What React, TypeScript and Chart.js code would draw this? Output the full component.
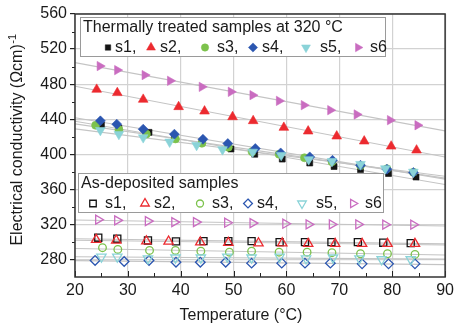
import React, { useEffect, useRef } from 'react';
import { Chart, registerables } from 'chart.js';

Chart.register(...registerables);

const FONT = "'Liberation Sans', Arial, Helvetica, sans-serif";

// ---- axes ----
const xTicks = [20, 30, 40, 50, 60, 70, 80, 90];
const yTicks = [280, 320, 360, 400, 440, 480, 520, 560];
const xMinorTicks = [25, 35, 45, 55, 65, 75, 85];
const yMinorTicks = [300, 340, 380, 420, 460, 500, 540];

// ---- legend texts ----
const sampleNames = ['s1', 's2', 's3', 's4', 's5', 's6'];
const thermalTitle = 'Thermally treated samples at 320 °C';
const depositedTitle = 'As-deposited samples';
const xTitle = 'Temperature (°C)';
const yTitle = 'Electrical conductivity (Ωcm)';
const yTitleSup = '-1';

// ---- thermally treated samples at 320 °C ----
const tS1T = [25.0, 28.3, 34.0, 38.8, 44.0, 49.5, 54.0, 59.2, 64.4, 69.0, 74.0, 79.3, 84.5];
const tS1 = [433.5, 429.5, 425.0, 419.5, 413.5, 406.0, 400.0, 394.5, 390.0, 386.0, 382.5, 378.0, 374.0];
const tS2T = [24.1, 28.0, 32.9, 39.6, 44.5, 49.8, 53.7, 59.5, 64.1, 69.5, 74.7, 79.8, 84.6];
const tS2 = [473.9, 470.1, 462.5, 454.1, 449.1, 442.6, 438.1, 430.5, 426.3, 420.6, 414.9, 409.1, 404.6];
const tS3T = [23.9, 28.3, 33.5, 39.0, 44.0, 49.0, 53.5, 58.6, 63.4, 68.6, 74.0, 79.0, 84.0];
const tS3 = [433.0, 428.2, 423.0, 417.5, 412.5, 408.0, 403.0, 400.0, 396.0, 391.5, 387.0, 383.5, 379.5];
const tS4T = [24.8, 27.9, 32.9, 38.8, 44.2, 48.9, 54.1, 58.9, 64.4, 68.7, 74.0, 79.0, 84.0];
const tS4 = [438.1, 434.3, 428.6, 422.9, 417.1, 412.2, 406.5, 401.5, 397.0, 393.1, 387.4, 382.9, 379.1];
const tS5T = [24.8, 28.3, 32.9, 37.9, 43.0, 47.9, 53.6, 59.0, 64.2, 68.6, 74.0, 78.7, 84.0];
const tS5 = [427.4, 422.9, 419.1, 414.1, 410.3, 405.4, 402.6, 398.9, 394.0, 392.0, 388.6, 383.7, 379.8];
const tS6T = [24.7, 28.0, 33.2, 38.0, 44.0, 49.5, 53.6, 58.6, 63.3, 68.3, 73.3, 79.6, 84.8];
const tS6 = [500.6, 496.0, 490.3, 483.8, 476.9, 471.2, 467.4, 460.9, 456.0, 450.3, 445.4, 438.9, 433.1];

// ---- as-deposited samples ----
const aS1T = [24.4, 28.0, 33.8, 39.1, 44.3, 49.0, 53.4, 58.7, 63.5, 68.5, 73.5, 78.3, 83.5];
const aS1 = [304.8, 303.7, 301.7, 300.6, 300.9, 300.9, 300.9, 299.8, 299.8, 299.8, 299.8, 299.1, 298.6];
const aS2T = [24.0, 27.8, 33.5, 37.7, 43.7, 49.0, 54.7, 59.2, 64.1, 69.2, 74.3, 79.1, 84.3];
const aS2 = [302.5, 301.7, 300.9, 300.6, 299.8, 299.1, 298.6, 298.6, 297.9, 297.9, 297.9, 297.9, 297.9];
const aS3T = [25.2, 28.1, 34.1, 39.0, 43.8, 49.2, 53.4, 58.6, 63.9, 68.6, 74.0, 79.1, 84.3];
const aS3 = [293.4, 291.4, 290.3, 290.3, 289.5, 288.3, 289.5, 288.3, 288.3, 287.7, 286.5, 286.5, 285.7];
const aS4T = [23.8, 29.3, 34.0, 39.1, 43.7, 48.5, 53.4, 59.1, 63.5, 68.3, 74.3, 79.3, 84.3];
const aS4 = [278.9, 277.7, 278.9, 276.9, 276.9, 276.9, 275.8, 275.8, 275.8, 275.8, 275.0, 275.0, 275.0];
const aS5T = [25.0, 28.0, 33.8, 39.0, 43.8, 48.8, 53.4, 58.7, 63.7, 68.8, 73.8, 78.0, 83.5];
const aS5 = [283.0, 283.0, 281.0, 282.0, 282.0, 283.0, 282.0, 283.0, 281.0, 282.0, 281.0, 280.0, 280.0];
const aS6T = [24.4, 28.0, 33.8, 38.8, 42.9, 48.8, 53.6, 59.8, 64.2, 68.6, 73.6, 78.7, 84.0];
const aS6 = [325.4, 324.6, 323.8, 322.6, 322.6, 321.9, 321.5, 320.8, 320.0, 320.0, 320.0, 319.7, 319.7];

// ---- styles ----
const colors = ['#141414', '#ec2a2f', '#7cc24c', '#2b56b0', '#8ad3d8', '#c96cc0'];
const shapes = ['rect', 'triangle', 'circle', 'rectRot', 'triangle', 'triangle'];
const rotations = [0, 0, 0, 0, 180, 90];
const filledRadius = [4.2, 5.6, 4.0, 5.0, 5.6, 5.4];
const openRadius = [5.0, 5.4, 3.8, 4.8, 5.4, 5.2];
const thermalOrder = [14, 10, 13, 12, 11, 10];
const depositedOrder = [30, 29, 28, 27, 26, 25];

const thermalX = [tS1T, tS2T, tS3T, tS4T, tS5T, tS6T];
const thermalY = [tS1, tS2, tS3, tS4, tS5, tS6];
const depositedX = [aS1T, aS2T, aS3T, aS4T, aS5T, aS6T];
const depositedY = [aS1, aS2, aS3, aS4, aS5, aS6];

const X_MIN = 20;
const X_MAX = 90;
const Y_MIN = 260;
const Y_MAX = 560;

function linFit(xs: number[], ys: number[]) {
  const n = xs.length;
  let sx = 0, sy = 0, sxx = 0, sxy = 0;
  for (let i = 0; i < n; i++) {
    sx += xs[i]; sy += ys[i]; sxx += xs[i] * xs[i]; sxy += xs[i] * ys[i];
  }
  const b = (n * sxy - sx * sy) / (n * sxx - sx * sx);
  const a = (sy - b * sx) / n;
  return [
    { x: X_MIN, y: a + b * X_MIN },
    { x: X_MAX, y: a + b * X_MAX },
  ];
}

function pts(xs: number[], ys: number[]) {
  return xs.map((x, i) => ({ x, y: ys[i] }));
}

function drawMarker(
  ctx: CanvasRenderingContext2D, style: string, x: number, y: number, r: number,
  rotDeg: number, fill: string | null, stroke: string | null, lw: number
) {
  let rad = (rotDeg * Math.PI) / 180;
  ctx.beginPath();
  if (style === 'circle') {
    ctx.arc(x, y, r, 0, Math.PI * 2);
  } else if (style === 'rect') {
    const s = r * Math.SQRT1_2;
    ctx.rect(x - s, y - s, 2 * s, 2 * s);
  } else if (style === 'rectRot') {
    ctx.moveTo(x, y - r);
    ctx.lineTo(x + r, y);
    ctx.lineTo(x, y + r);
    ctx.lineTo(x - r, y);
    ctx.closePath();
  } else {
    ctx.moveTo(x + Math.sin(rad) * r, y - Math.cos(rad) * r);
    rad += (2 * Math.PI) / 3;
    ctx.lineTo(x + Math.sin(rad) * r, y - Math.cos(rad) * r);
    rad += (2 * Math.PI) / 3;
    ctx.lineTo(x + Math.sin(rad) * r, y - Math.cos(rad) * r);
    ctx.closePath();
  }
  if (fill) { ctx.fillStyle = fill; ctx.fill(); }
  if (stroke) { ctx.strokeStyle = stroke; ctx.lineWidth = lw; ctx.stroke(); }
}

function drawLegend(
  ctx: CanvasRenderingContext2D, left: number, top: number, title: string,
  filled: boolean, markerXs: number[], textXs: number[]
) {
  const w = 305, h = 39;
  ctx.save();
  ctx.fillStyle = '#ffffff';
  ctx.fillRect(left, top, w, h);
  ctx.strokeStyle = '#9a9a9a';
  ctx.lineWidth = 1;
  ctx.strokeRect(left + 0.5, top + 0.5, w, h);
  ctx.fillStyle = '#1a1a1a';
  ctx.font = `16px ${FONT}`;
  ctx.textBaseline = 'middle';
  ctx.textAlign = 'left';
  ctx.fillText(title, left + 3, top + 11);
  const rowY = top + 30.5;
  for (let i = 0; i < 6; i++) {
    const mx = left + markerXs[i];
    if (filled) {
      drawMarker(ctx, shapes[i], mx, rowY, filledRadius[i] * 0.92, rotations[i], colors[i], colors[i], 0.5);
    } else {
      drawMarker(ctx, shapes[i], mx, rowY, openRadius[i] * 0.92, rotations[i], null, colors[i], 1.3);
    }
    ctx.fillStyle = '#1a1a1a';
    ctx.fillText(sampleNames[i] + (i < 5 ? ',' : ''), left + textXs[i], rowY);
  }
  ctx.restore();
}

const decorPlugin = {
  id: 'decor',
  afterDatasetsDraw(chart: any) {
    const { ctx, chartArea, scales } = chart;
    const xs = scales.x;
    const ys = scales.y;
    const { left, right, top, bottom } = chartArea;

    // legends (relative to the plot area)
    drawLegend(ctx, left + 5, top + 3, thermalTitle, true,
      [28, 71, 125, 173, 226, 278], [35, 80, 137, 182, 240, 290]);
    drawLegend(ctx, left + 3, top + 159, depositedTitle, false,
      [15, 67, 122, 170, 224, 275], [27, 76, 134, 179, 238, 287]);

    ctx.save();
    ctx.strokeStyle = '#222222';
    ctx.lineWidth = 1;
    // x ticks inside
    xTicks.forEach((v) => {
      const px = Math.round(xs.getPixelForValue(v)) + 0.5;
      ctx.beginPath(); ctx.moveTo(px, bottom); ctx.lineTo(px, bottom - 6); ctx.stroke();
    });
    xMinorTicks.forEach((v) => {
      const px = Math.round(xs.getPixelForValue(v)) + 0.5;
      ctx.beginPath(); ctx.moveTo(px, bottom); ctx.lineTo(px, bottom - 4); ctx.stroke();
    });
    // y minor ticks outside
    yMinorTicks.forEach((v) => {
      const py = Math.round(ys.getPixelForValue(v)) + 0.5;
      ctx.beginPath(); ctx.moveTo(left, py); ctx.lineTo(left - 3, py); ctx.stroke();
    });
    // frame
    ctx.strokeStyle = '#333333';
    ctx.lineWidth = 1.5;
    ctx.strokeRect(left, top, right - left, bottom - top);
    ctx.restore();
  },
  afterDraw(chart: any) {
    const { ctx } = chart;
    ctx.save();
    ctx.fillStyle = '#1a1a1a';
    ctx.font = `16px ${FONT}`;
    ctx.textBaseline = 'middle';
    ctx.textAlign = 'center';
    ctx.fillText(xTitle, 241, 316);

    // y title, rotated, with superscript
    ctx.translate(18, 140);
    ctx.rotate(-Math.PI / 2);
    ctx.font = `16px ${FONT}`;
    const w1 = ctx.measureText(yTitle).width;
    ctx.font = `11px ${FONT}`;
    const w2 = ctx.measureText(yTitleSup).width;
    const start = -(w1 + w2) / 2;
    ctx.textAlign = 'left';
    ctx.font = `16px ${FONT}`;
    ctx.fillText(yTitle, start, 0);
    ctx.font = `11px ${FONT}`;
    ctx.fillText(yTitleSup, start + w1 + 0.5, -5);
    ctx.restore();
  },
};

export default function App() {
  const ref = useRef<HTMLCanvasElement>(null);

  useEffect(() => {
    if (!ref.current) return;
    const datasets: any[] = [];

    // fitted lines behind markers
    for (let i = 0; i < 6; i++) {
      datasets.push({
        type: 'line',
        data: linFit(thermalX[i], thermalY[i]),
        borderColor: '#c4c4c4',
        borderWidth: 1.1,
        pointRadius: 0,
        showLine: true,
        fill: false,
        order: 100,
      });
      datasets.push({
        type: 'line',
        data: linFit(depositedX[i], depositedY[i]),
        borderColor: '#c4c4c4',
        borderWidth: 1.1,
        pointRadius: 0,
        showLine: true,
        fill: false,
        order: 100,
      });
    }

    for (let i = 0; i < 6; i++) {
      datasets.push({
        label: 'thermal ' + sampleNames[i],
        data: pts(thermalX[i], thermalY[i]),
        pointStyle: shapes[i],
        rotation: rotations[i],
        pointRadius: filledRadius[i],
        backgroundColor: colors[i],
        borderColor: colors[i],
        borderWidth: 0.6,
        showLine: false,
        order: thermalOrder[i],
      });
      datasets.push({
        label: 'as-deposited ' + sampleNames[i],
        data: pts(depositedX[i], depositedY[i]),
        pointStyle: shapes[i],
        rotation: rotations[i],
        pointRadius: openRadius[i],
        backgroundColor: 'rgba(0,0,0,0)',
        borderColor: colors[i],
        borderWidth: 1.3,
        showLine: false,
        order: depositedOrder[i],
      });
    }

    const chart = new Chart(ref.current, {
      type: 'scatter',
      data: { datasets },
      options: {
        animation: false,
        responsive: false,
        devicePixelRatio: 1,
        layout: { padding: { top: 14, right: 11, left: 0, bottom: 0 } },
        plugins: {
          legend: { display: false },
          tooltip: { enabled: false },
        },
        scales: {
          x: {
            type: 'linear',
            min: X_MIN,
            max: X_MAX,
            afterFit: (s: any) => { s.height = 51; },
            afterBuildTicks: (s: any) => { s.ticks = xTicks.map((v) => ({ value: v })); },
            grid: { color: '#d2d2d2', lineWidth: 1.2, drawTicks: false },
            border: { display: false },
            ticks: {
              color: '#1a1a1a',
              font: { family: FONT, size: 16 },
              padding: 4,
              maxRotation: 0,
              callback: (v: any) => String(v),
            },
          },
          y: {
            type: 'linear',
            min: Y_MIN,
            max: Y_MAX,
            afterFit: (s: any) => { s.width = 75; },
            afterBuildTicks: (s: any) => { s.ticks = yTicks.map((v) => ({ value: v })); },
            grid: { color: '#d2d2d2', lineWidth: 1.2, drawTicks: true, tickLength: 5, tickColor: '#222222' },
            border: { display: false },
            ticks: {
              color: '#1a1a1a',
              font: { family: FONT, size: 16 },
              padding: 3,
              callback: (v: any) => String(v),
            },
          },
        },
      },
      plugins: [decorPlugin],
    } as any);

    return () => chart.destroy();
  }, []);

  return (
    <div style={{ position: 'fixed', left: 0, top: 0, width: 458, height: 328, background: '#ffffff' }}>
      <canvas ref={ref} width={458} height={328} style={{ width: 458, height: 328, display: 'block' }} />
    </div>
  );
}
